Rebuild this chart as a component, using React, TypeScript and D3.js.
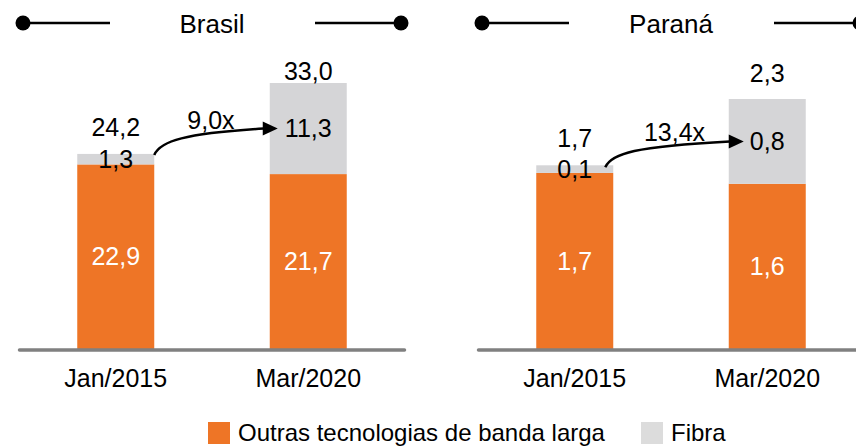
import React from "react";
import * as d3 from "d3";

const categories = ["Jan/2015", "Mar/2020"];
const regions = ["Brasil", "Paraná"];

// valores (milhões de acessos)
const outrasBrasil = [22.9, 21.7];
const fibraBrasil = [1.3, 11.3];
const outrasParana = [1.62, 1.52];
const fibraParana = [0.07, 0.78];

// rótulos como aparecem no gráfico
const totalLabelsBrasil = ["24,2", "33,0"];
const totalLabelsParana = ["1,7", "2,3"];
const outrasLabelsBrasil = ["22,9", "21,7"];
const outrasLabelsParana = ["1,7", "1,6"];
const fibraLabelsBrasil = ["1,3", "11,3"];
const fibraLabelsParana = ["0,1", "0,8"];
const growthLabels = ["9,0x", "13,4x"];

const legendItems = ["Outras tecnologias de banda larga", "Fibra"];

const width = 856;
const height = 446;
const baseY = 349;
const orange = "#EE7526";
const gray = "#D5D5D7";
const font = "'Liberation Sans', Arial, sans-serif";
const fs = 25;

const panels = [
  {
    name: regions[0],
    cx: 212,
    top: 83,
    outras: outrasBrasil,
    fibra: fibraBrasil,
    totalLabels: totalLabelsBrasil,
    outrasLabels: outrasLabelsBrasil,
    fibraLabels: fibraLabelsBrasil,
    growth: growthLabels[0],
    totalDy: [18, 3],
    arrow: { sx: 0, sy: 1, ex: 8, lx: -5 },
  },
  {
    name: regions[1],
    cx: 671,
    top: 99,
    outras: outrasParana,
    fibra: fibraParana,
    totalLabels: totalLabelsParana,
    outrasLabels: outrasLabelsParana,
    fibraLabels: fibraLabelsParana,
    growth: growthLabels[1],
    totalDy: [18, 17],
    arrow: { sx: -8, sy: 2, ex: 15, lx: 0 },
  },
];

function Panel({ p }: { p: (typeof panels)[number] }) {
  const x = d3
    .scaleBand()
    .domain(categories)
    .range([p.cx - 192.5, p.cx + 192.5])
    .paddingInner(0.6)
    .paddingOuter(0.3);
  const totals = p.outras.map((v, i) => v + p.fibra[i]);
  const y = d3
    .scaleLinear()
    .domain([0, d3.max(totals) as number])
    .range([baseY, p.top]);
  const bw = x.bandwidth();

  // seta entre as barras
  const x0 = (x(categories[0]) as number) + bw + p.arrow.sx;
  const y0 = y(totals[0]) + p.arrow.sy;
  const tipX = (x(categories[1]) as number) + p.arrow.ex;
  const tipY = (y(totals[1]) + y(p.outras[1])) / 2;
  const ex = tipX - 14;
  const path = d3.path();
  path.moveTo(x0, y0);
  path.bezierCurveTo(x0 + 6, y0 - 14, x0 + 30, tipY + 5, ex, tipY);

  const halfTitle = 189;
  return (
    <g>
      {/* título com linhas */}
      <line x1={p.cx - halfTitle} x2={p.cx - 102} y1={23} y2={23} stroke="#000" strokeWidth={2.5} />
      <line x1={p.cx + 103} x2={p.cx + halfTitle} y1={23} y2={23} stroke="#000" strokeWidth={2.5} />
      <circle cx={p.cx - halfTitle} cy={23} r={7.5} fill="#000" />
      <circle cx={p.cx + halfTitle} cy={23} r={7.5} fill="#000" />
      <text x={p.cx} y={33} textAnchor="middle" fontSize={26}>
        {p.name}
      </text>

      {categories.map((c, i) => {
        const bx = x(c) as number;
        const mid = bx + bw / 2;
        return (
          <g key={c}>
            <rect x={bx} width={bw} y={y(p.outras[i])} height={baseY - y(p.outras[i])} fill={orange} />
            <rect x={bx} width={bw} y={y(totals[i])} height={y(p.outras[i]) - y(totals[i])} fill={gray} />
            <text
              x={mid}
              y={(y(p.outras[i]) + baseY) / 2}
              dy="0.35em"
              textAnchor="middle"
              fill="#fff"
              fontSize={fs}
            >
              {p.outrasLabels[i]}
            </text>
            <text
              x={mid}
              y={(y(p.outras[i]) + y(totals[i])) / 2}
              dy="0.35em"
              textAnchor="middle"
              fontSize={fs}
            >
              {p.fibraLabels[i]}
            </text>
            <text x={mid} y={y(totals[i]) - p.totalDy[i]} textAnchor="middle" fontSize={fs}>
              {p.totalLabels[i]}
            </text>
            <text x={mid} y={387} textAnchor="middle" fontSize={fs}>
              {c}
            </text>
          </g>
        );
      })}

      <line
        x1={p.cx - 192.5}
        x2={p.cx + 192.5}
        y1={baseY + 1}
        y2={baseY + 1}
        stroke="#808080"
        strokeWidth={3.5}
        strokeLinecap="round"
      />

      <path d={path.toString()} fill="none" stroke="#000" strokeWidth={2.5} />
      <polygon points={`${ex - 1},${tipY - 7} ${tipX},${tipY} ${ex - 1},${tipY + 7}`} fill="#000" />
      <text x={(x0 + tipX) / 2 + p.arrow.lx} y={y0 - 26} textAnchor="middle" fontSize={fs}>
        {p.growth}
      </text>
    </g>
  );
}

export default function App() {
  const legendX = [208, 641];
  const legendColors = [orange, "#DCDCDC"];
  return (
    <svg
      width={width}
      height={height}
      style={{ position: "absolute", left: 0, top: 0, fontFamily: font }}
    >
      <rect width={width} height={height} fill="#fff" />
      {panels.map((p) => (
        <Panel key={p.name} p={p} />
      ))}
      {legendItems.map((l, i) => (
        <g key={l}>
          <rect x={legendX[i]} y={422} width={22} height={22} fill={legendColors[i]} />
          <text x={legendX[i] + 30} y={441} fontSize={24}>
            {l}
          </text>
        </g>
      ))}
    </svg>
  );
}
